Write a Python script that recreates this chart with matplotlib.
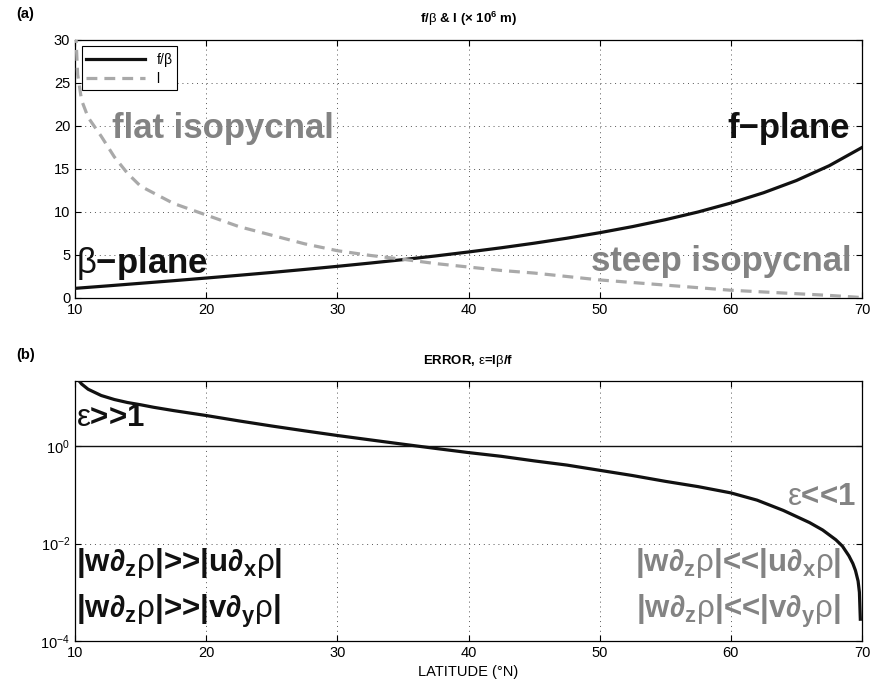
import matplotlib
matplotlib.use("Agg")
import matplotlib.pyplot as plt
from matplotlib.ticker import NullLocator

plt.rcParams['font.family'] = ['Liberation Sans', 'DejaVu Sans']
plt.rcParams['mathtext.fontset'] = 'custom'
# \text{} pieces come out bold, greek letters upright regular (like the Symbol font)
plt.rcParams['mathtext.rm'] = 'Liberation Sans:bold'
plt.rcParams['mathtext.bf'] = 'Liberation Sans:bold'
plt.rcParams['mathtext.it'] = 'Liberation Sans'

BLACK, LGREY, DGREY = "#111111", "#a9a9a9", "#838383"
MINUS = "\u2212"

# ---- data ----
# (a) f/beta (x 10^6 m) vs latitude
lat_fb = [10, 12.5, 15, 17.5, 20, 22.5, 25, 27.5, 30, 32.5, 35, 37.5, 40, 42.5,
          45, 47.5, 50, 52.5, 55, 57.5, 60, 62.5, 65, 67.5, 70]
f_beta = [1.12, 1.41, 1.71, 2.01, 2.32, 2.64, 2.97, 3.32, 3.68, 4.06, 4.46, 4.89,
          5.35, 5.84, 6.37, 6.95, 7.59, 8.30, 9.10, 10.00, 11.04, 12.24, 13.66,
          15.38, 17.50]
# (a) l (x 10^6 m) vs latitude
lat_l = [10, 10.2, 10.5, 11, 12, 13, 14, 15, 17.5, 20, 22.5, 25, 27.5, 30, 32.5,
         35, 37.5, 40, 42.5, 45, 47.5, 50, 52.5, 55, 57.5, 60, 62.5, 65, 67.5, 70]
l_len = [33, 26, 23, 21, 18.8, 16.4, 14.5, 13.0, 11.0, 9.65, 8.3, 7.3, 6.3, 5.5,
         4.95, 4.5, 4.0, 3.6, 3.2, 2.9, 2.5, 2.1, 1.8, 1.5, 1.2, 0.9, 0.7, 0.5,
         0.3, 0.05]
# (b) error epsilon = l beta / f vs latitude
lat_e = [10, 10.5, 11, 12, 13, 14, 15, 16, 17.5, 20, 22.5, 25, 27.5, 30, 32.5, 35,
         37.5, 40, 42.5, 45, 47.5, 50, 52.5, 55, 57.5, 60, 62, 64, 66, 67, 68,
         68.5, 69, 69.3, 69.5, 69.7, 69.8, 69.87]
eps = [28.2, 19.0, 14.8, 11.0, 9.1, 7.9, 7.1, 6.3, 5.4, 4.27, 3.31, 2.60, 2.07,
       1.66, 1.35, 1.10, 0.90, 0.74, 0.62, 0.50, 0.41, 0.32, 0.25, 0.19, 0.148,
       0.110, 0.078, 0.048, 0.027, 0.019, 0.012, 0.0089, 0.0056, 0.0039, 0.0028,
       0.0017, 0.0010, 0.00028]

fig = plt.figure(figsize=(8.71, 6.89), dpi=100)
ax1 = fig.add_axes([0.0861, 0.5675, 0.9036, 0.3745])
ax2 = fig.add_axes([0.0861, 0.0697, 0.9036, 0.3774])

for ax in (ax1, ax2):
    ax.tick_params(direction="in", length=4, top=True, right=True, labelsize=10.5,
                   width=0.8)
    ax.grid(True, which="major", linestyle=(0, (1, 4)), color="#555555", lw=0.7)
    ax.set_xlim(10, 70)
    ax.set_xticks([10, 20, 30, 40, 50, 60, 70])
    for s in ax.spines.values():
        s.set_linewidth(0.9)

# ---- panel (a) ----
ax1.plot(lat_fb, f_beta, color=BLACK, lw=2.3, label=r"f/$\beta$", zorder=3)
ax1.plot(lat_l, l_len, color=LGREY, lw=2.3, ls=(0, (3.4, 2.2)), label="l", zorder=3)
ax1.set_ylim(0, 30)
ax1.set_yticks([0, 5, 10, 15, 20, 25, 30])
leg = ax1.legend(loc="upper left", bbox_to_anchor=(0.009, 0.975), fontsize=10,
                 fancybox=False, edgecolor="black", framealpha=1, handlelength=4.2,
                 borderpad=0.3, labelspacing=0.25, borderaxespad=0)
leg.get_frame().set_linewidth(0.8)
ax1.set_title(r"f/$\beta$ & l ($\times$ 10$^{\text{6}}$ m)", fontsize=9.5,
              fontweight="bold", pad=12)
ax1.text(-0.075, 1.1, "(a)", transform=ax1.transAxes, fontsize=10.5,
         fontweight="bold", va="center")
ax1.text(12.8, 19.7, "flat isopycnal", color=DGREY, fontsize=25, fontweight="bold",
         va="center")
ax1.text(69.1, 19.7, "f" + MINUS + "plane", color=BLACK, fontsize=25,
         fontweight="bold", va="center", ha="right")
ax1.text(10.1, 4.0, r"$\beta\text{" + MINUS + r"plane}$", color=BLACK, fontsize=25,
         va="center")
ax1.text(69.2, 4.2, "steep isopycnal", color=DGREY, fontsize=25, fontweight="bold",
         va="center", ha="right")

# ---- panel (b) ----
ax2.set_yscale("log")
ax2.plot(lat_e, eps, color=BLACK, lw=2.3, zorder=3)
ax2.axhline(1, color=BLACK, lw=1.0, zorder=2)
ax2.set_ylim(1e-4, 21.9)
ax2.set_yticks([1e-4, 1e-2, 1e0])
ax2.yaxis.set_minor_locator(NullLocator())
ax2.set_title(r"ERROR, $\varepsilon$=l$\beta$/f", fontsize=9.5,
              fontweight="bold", pad=12)
ax2.text(-0.075, 1.1, "(b)", transform=ax2.transAxes, fontsize=10.5,
         fontweight="bold", va="center")
ax2.set_xlabel("LATITUDE (\u00b0N)", fontsize=10.5, labelpad=4)

ax2.text(10.1, 10 ** 0.58, r"$\varepsilon\text{>>1}$", color=BLACK, fontsize=22.5,
         va="center")
ax2.text(69.5, 10 ** -1.05, r"$\varepsilon\text{<<1}$", color=DGREY, fontsize=22.5,
         va="center", ha="right")

rows_b = [(r"$\text{|w}\partial_{\text{z}}\rho\text{|%s|u}\partial_{\text{x}}\rho\text{|}$", 10 ** -2.4),
          (r"$\text{|w}\partial_{\text{z}}\rho\text{|%s|v}\partial_{\text{y}}\rho\text{|}$", 10 ** -3.4)]
for fmt, yv in rows_b:
    ax2.text(10.1, yv, fmt % ">>", color=BLACK, fontsize=22.5, va="center")
    ax2.text(68.4, yv, fmt % "<<", color=DGREY, fontsize=22.5, va="center", ha="right")

fig.savefig("out.png", dpi=100)
